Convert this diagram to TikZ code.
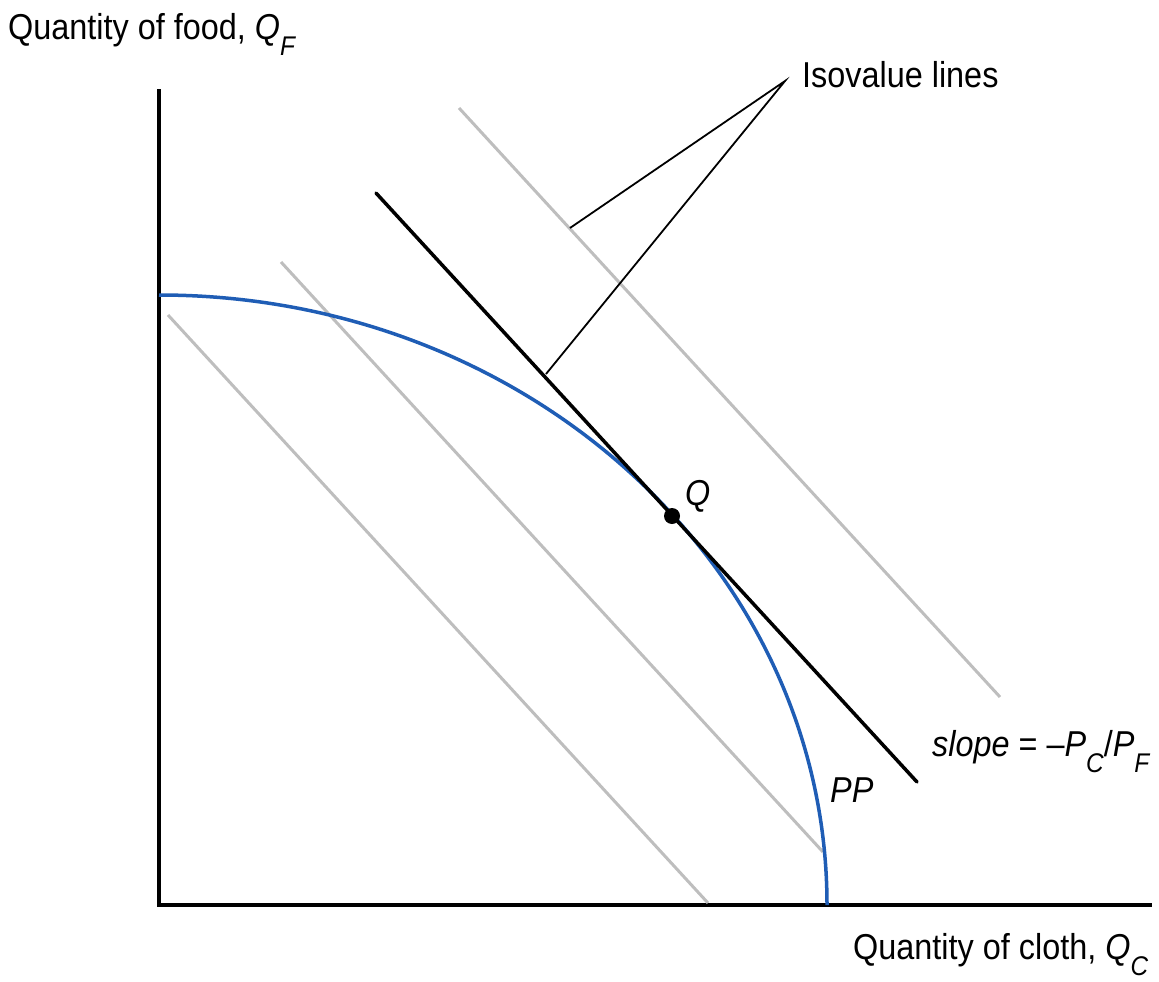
\documentclass[tikz,border=0pt]{standalone}
\usepackage{fontspec}
\setmainfont{Liberation Sans}
\definecolor{ppblue}{HTML}{1F5DB5}
\definecolor{isogray}{HTML}{BEBEBE}
\newcommand{\lowsub}[1]{\raisebox{-16pt}{\fontsize{27}{27}\selectfont\itshape #1}}
\newcommand{\narrow}[1]{\scalebox{0.9}[1]{#1}}
\begin{document}
\begin{tikzpicture}[x=1pt,y=-1pt,
  lbl/.style={inner sep=0pt, anchor=base west, font=\fontsize{36}{40}\selectfont},
  axisline/.style={line width=4.5pt, black},
  isoline/.style={line width=3pt, isogray},
  tangentline/.style={line width=3.5pt, black, line cap=round},
  leader/.style={line width=1.8pt, black},
  ppcurve/.style={line width=3.5pt, ppblue}]
\useasboundingbox (0,0) rectangle (1159,982);
% axes
\coordinate (O) at (159,905);
\coordinate (ytop) at (159,89);
\coordinate (xend) at (1152,905);
\draw[axisline] (ytop) -- (O) -- (xend);
% gray isovalue lines
\coordinate (g1a) at (168,315); \coordinate (g1b) at (708,903);
\coordinate (g2a) at (281,262); \coordinate (g2b) at (823,852);
\coordinate (g3a) at (459,108); \coordinate (g3b) at (1000,697);
\draw[isoline] (g1a) -- (g1b);
\draw[isoline] (g2a) -- (g2b);
\draw[isoline] (g3a) -- (g3b);
% PP curve
\draw[ppcurve] (159,295) arc[start angle=90, end angle=0, x radius=668pt, y radius=610pt];
% tangent line
\coordinate (ta) at (376,193); \coordinate (tb) at (917,782);
\draw[tangentline] (ta) -- (tb);
% point Q
\node[circle, fill=black, minimum size=16pt, inner sep=0pt] (Qpt) at (672,516) {};
% leaders
\coordinate (lv) at (785,81);
\coordinate (l1) at (570,228);
\coordinate (l2) at (546,374);
\draw[leader] (l1) -- (lv) -- (l2);
% labels
\node[lbl] (iso) at (802,87) {\narrow{Isovalue lines}};
\node[lbl] (yl) at (8,40) {\narrow{Quantity of food, \textit{Q}\lowsub{F}}};
\node[lbl] (xl) at (853,959) {\narrow{Quantity of cloth, \textit{Q}\lowsub{C}}};
\node[lbl] (sl) at (932,756) {\narrow{\textit{slope} = –\textit{P}\lowsub{C}/\textit{P}\lowsub{F}}};
\node[lbl] (ppl) at (830,802) {\narrow{\textit{PP}}};
\node[lbl] (ql) at (685,505) {\narrow{\textit{Q}}};
\end{tikzpicture}
\end{document}
